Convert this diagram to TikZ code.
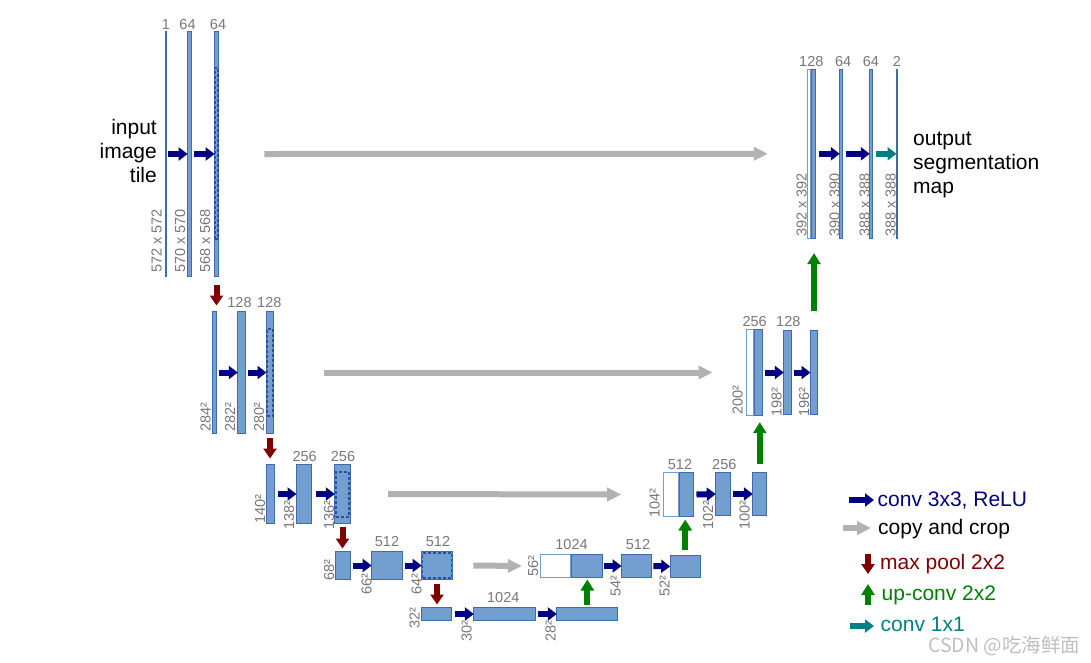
\documentclass[tikz,border=0pt]{standalone}
\usepackage{fontspec}
\setmainfont{Liberation Sans}
\newfontfamily\cjkfont{Noto Sans CJK SC}
\usetikzlibrary{arrows.meta}
\definecolor{blkfill}{RGB}{114,159,207}
\definecolor{blkdraw}{RGB}{62,106,176}
\definecolor{dashc}{RGB}{40,80,160}
\definecolor{lblgray}{RGB}{120,120,120}
\definecolor{cpgray}{RGB}{178,178,178}
\definecolor{convblue}{RGB}{0,0,128}
\definecolor{poolred}{RGB}{128,0,0}
\definecolor{upgreen}{RGB}{0,128,0}
\definecolor{tealc}{RGB}{0,128,128}
\begin{document}
\begin{tikzpicture}[x=1pt,y=-1pt,
  blk/.style={draw=blkdraw, fill=blkfill, line width=1.2pt, inner sep=0pt, outer sep=0pt},
  wblk/.style={draw=blkfill, fill=white, line width=1.2pt, inner sep=0pt, outer sep=0pt},
  dsh/.style={draw=dashc, line width=1.5pt, dash pattern=on 3pt off 2pt, inner sep=0pt, outer sep=0pt},
  conv/.style={draw=convblue, line width=6pt, -{Triangle[length=9pt,width=13pt]}},
  cnv1/.style={draw=tealc, line width=6pt, -{Triangle[length=9pt,width=13pt]}},
  copyc/.style={draw=cpgray, line width=6pt, -{Triangle[length=14pt,width=13pt]}},
  pool/.style={draw=poolred, line width=6pt, -{Triangle[length=10pt,width=13pt]}},
  upc/.style={draw=upgreen, line width=6pt, -{Triangle[length=11pt,width=13pt]}},
  chlbl/.style={text=lblgray, font=\fontsize{14.5}{16}\selectfont, inner sep=0pt, anchor=base},
  szlbl/.style={text=lblgray, font=\fontsize{14.5}{16}\selectfont, inner sep=0pt, rotate=90, anchor=base west},
  bigtxt/.style={font=\fontsize{21}{24}\selectfont, inner sep=0pt},
  legtxt/.style={font=\fontsize{21}{24}\selectfont, inner sep=0pt, anchor=base west}
]
\useasboundingbox (0,0) rectangle (1091,662);
\fill[white] (0,0) rectangle (1091,662);

% ---------- contracting path ----------
% level 1
\node[blk, minimum width=0.6pt, minimum height=245pt] (d11) at (166,154) {};
\node[blk, minimum width=3.8pt, minimum height=245pt] (d12) at (189.5,154) {};
\node[blk, minimum width=3.8pt, minimum height=245pt] (d13) at (216.5,154) {};
\node[dsh, minimum width=3pt, minimum height=171pt] (c13) at (216.5,153.5) {};
% level 2
\node[blk, minimum width=3.4pt, minimum height=122pt] (d21) at (214.5,372.5) {};
\node[blk, minimum width=7.4pt, minimum height=122pt] (d22) at (241.5,372.5) {};
\node[blk, minimum width=7pt, minimum height=122pt] (d23) at (270,372.5) {};
\node[dsh, minimum width=6pt, minimum height=87pt] (c23) at (270,372.5) {};
% level 3
\node[blk, minimum width=7.4pt, minimum height=59pt] (d31) at (270.5,494) {};
\node[blk, minimum width=15pt, minimum height=59pt] (d32) at (304,494) {};
\node[blk, minimum width=15.4pt, minimum height=59pt] (d33) at (342.5,494) {};
\node[dsh, minimum width=13pt, minimum height=45pt] (c33) at (342.5,494.5) {};
% level 4
\node[blk, minimum width=14.4pt, minimum height=28pt] (d41) at (343,565.5) {};
\node[blk, minimum width=30.7pt, minimum height=28pt] (d42) at (387,565.5) {};
\node[blk, minimum width=30.7pt, minimum height=28pt] (d43) at (437,565.5) {};
\node[dsh, minimum width=29pt, minimum height=25pt] (c43) at (437,565.5) {};
% level 5
\node[blk, minimum width=30pt, minimum height=13pt] (d51) at (436.5,614) {};
\node[blk, minimum width=61.7pt, minimum height=13pt] (d52) at (504.7,614) {};
\node[blk, minimum width=61pt, minimum height=13pt] (d53) at (587.3,614) {};

% ---------- expansive path ----------
% level 4
\node[wblk, minimum width=29.7pt, minimum height=23pt] (u4w) at (555.7,566) {};
\node[blk, minimum width=30.7pt, minimum height=23pt] (u4b) at (586.8,566) {};
\node[blk, minimum width=30.3pt, minimum height=23pt] (u42) at (636.7,566) {};
\node[blk, minimum width=30pt, minimum height=22pt] (u43) at (685.2,566.5) {};
% level 3
\node[wblk, minimum width=15pt, minimum height=44pt] (u3w) at (670.7,494.5) {};
\node[blk, minimum width=14.3pt, minimum height=44pt] (u3b) at (686.3,494.5) {};
\node[blk, minimum width=14.4pt, minimum height=43pt] (u32) at (723,494) {};
\node[blk, minimum width=14pt, minimum height=43pt] (u33) at (759.8,494) {};
% level 2
\node[wblk, minimum width=7pt, minimum height=85.4pt] (u2w) at (750,372.5) {};
\node[blk, minimum width=7.7pt, minimum height=85.4pt] (u2b) at (758.3,372.5) {};
\node[blk, minimum width=7.4pt, minimum height=84pt] (u22) at (787.5,372.5) {};
\node[blk, minimum width=7pt, minimum height=84pt] (u23) at (814,372.5) {};
% level 1
\node[wblk, minimum width=3pt, minimum height=168.7pt] (u1w) at (809.3,153.8) {};
\node[blk, minimum width=3.7pt, minimum height=168.7pt] (u1b) at (813.7,153.8) {};
\node[blk, minimum width=3pt, minimum height=168.7pt] (u12) at (841.3,153.8) {};
\node[blk, minimum width=3pt, minimum height=168.7pt] (u13) at (871.3,153.8) {};
\node[blk, minimum width=0.4pt, minimum height=168.7pt] (u14) at (896.7,153.8) {};

% ---------- conv arrows ----------
\draw[conv] ([xshift=2pt]d11.east) -- (d12.west);
\draw[conv] ([xshift=3pt]d12.east) -- (d13.west);
\draw[conv] ([xshift=3pt]d21.east) -- (d22.west);
\draw[conv] ([xshift=2.5pt]d22.east) -- (d23.west);
\draw[conv] ([xshift=4pt]d31.east) -- (d32.west);
\draw[conv] ([xshift=4pt]d32.east) -- (d33.west);
\draw[conv] ([xshift=2.5pt]d41.east) -- (d42.west);
\draw[conv] ([xshift=2.5pt]d42.east) -- (d43.west);
\draw[conv] ([xshift=3pt]d51.east) -- (d52.west);
\draw[conv] ([xshift=2pt]d52.east) -- (d53.west);
\draw[conv] ([xshift=1.5pt]u4b.east) -- (u42.west);
\draw[conv] ([xshift=1.5pt]u42.east) -- (u43.west);
\draw[conv] ([xshift=3pt]u3b.east) -- (u32.west);
\draw[conv] ([xshift=3pt]u32.east) -- (u33.west);
\draw[conv] ([xshift=3pt]u2b.east) -- (u22.west);
\draw[conv] ([xshift=2.5pt]u22.east) -- (u23.west);
\draw[conv] ([xshift=3pt]u1b.east) -- (u12.west);
\draw[conv] ([xshift=3.5pt]u12.east) -- (u13.west);
\draw[cnv1] ([xshift=3.5pt]u13.east) -- (u14.west);

% ---------- copy and crop ----------
\draw[copyc] ([xshift=46pt]d13.east) -- ([xshift=-40pt]u1w.west);
\draw[copyc] ([xshift=50pt]d23.east) -- ([xshift=-34pt]u2w.west);
\draw[copyc] ([xshift=38pt]d33.east) -- ([xshift=-42pt]u3w.west);
\draw[copyc] ([xshift=21pt]d43.east) -- ([xshift=-19pt]u4w.west);

% ---------- max pool ----------
\draw[pool] ([yshift=-8pt]d13.south) -- ([yshift=6pt]d13.south |- d21.north);
\draw[pool] ([yshift=-4pt]d23.south) -- ([yshift=6pt]d23.south |- d31.north);
\draw[pool] ([yshift=-3pt]d33.south) -- ([yshift=3pt]d33.south |- d41.north);
\draw[pool] ([yshift=-4pt]d43.south) -- ([yshift=3pt]d43.south |- d51.north);

% ---------- up-conv ----------
\draw[upc] ([yshift=3pt]d53.north) -- ([yshift=-2pt]d53.north |- u4b.south);
\draw[upc] ([yshift=6pt]u43.north) -- ([yshift=-3pt]u43.north |- u3b.south);
\draw[upc] ([yshift=9pt]u33.north) -- ([yshift=-7pt]u33.north |- u2b.south);
\draw[upc] ([yshift=20pt]u23.north) -- ([yshift=-15pt]u23.north |- u1b.south);

% ---------- channel labels ----------
\node[chlbl] (n11) at (166,29) {1};
\node[chlbl] (n12) at (187.5,29) {64};
\node[chlbl] (n13) at (218,29) {64};
\node[chlbl] (n22) at (239.5,307) {128};
\node[chlbl] (n23) at (269.3,307) {128};
\node[chlbl] (n32) at (304.7,461.5) {256};
\node[chlbl] (n33) at (343,461.5) {256};
\node[chlbl] (n42) at (387,546) {512};
\node[chlbl] (n43) at (438,546) {512};
\node[chlbl] (n52) at (503.3,602.5) {1024};
\node[chlbl] (m41) at (571.5,549) {1024};
\node[chlbl] (m42) at (638,549) {512};
\node[chlbl] (m31) at (680,469) {512};
\node[chlbl] (m32) at (724.3,469) {256};
\node[chlbl] (m21) at (754.7,326) {256};
\node[chlbl] (m22) at (788.3,326) {128};
\node[chlbl] (m11) at (811.3,66) {128};
\node[chlbl] (m12) at (843.2,66) {64};
\node[chlbl] (m13) at (870.8,66) {64};
\node[chlbl] (m14) at (897,66) {2};

% ---------- size labels ----------
\node[szlbl] (s11) at (161.5,273) {572 x 572};
\node[szlbl] (s12) at (185,273) {570 x 570};
\node[szlbl] (s13) at (210,273) {568 x 568};
\node[szlbl] (s21) at (210.5,432) {284²};
\node[szlbl] (s22) at (235,432) {282²};
\node[szlbl] (s23) at (264,432) {280²};
\node[szlbl] (s31) at (265,524) {140²};
\node[szlbl] (s32) at (294,530) {138²};
\node[szlbl] (s33) at (334,530) {136²};
\node[szlbl] (s41) at (334,581) {68²};
\node[szlbl] (s42) at (371.5,595) {66²};
\node[szlbl] (s43) at (421.5,595) {64²};
\node[szlbl] (s51) at (419.5,629) {32²};
\node[szlbl] (s52) at (471.5,642) {30²};
\node[szlbl] (s53) at (555.5,642) {28²};
\node[szlbl] (t41) at (538,577) {56²};
\node[szlbl] (t42) at (620.5,596.5) {54²};
\node[szlbl] (t43) at (669.5,596.5) {52²};
\node[szlbl] (t31) at (659.5,518) {104²};
\node[szlbl] (t32) at (713,530) {102²};
\node[szlbl] (t33) at (749.5,530) {100²};
\node[szlbl] (t21) at (742.5,415) {200²};
\node[szlbl] (t22) at (781.5,416.5) {198²};
\node[szlbl] (t23) at (809,416.5) {196²};
\node[szlbl] (t11) at (806.5,237) {392 x 392};
\node[szlbl] (t12) at (839.5,237) {390 x 390};
\node[szlbl] (t13) at (869.5,237) {388 x 388};
\node[szlbl] (t14) at (895.5,237) {388 x 388};

% ---------- texts ----------
\node[bigtxt, align=right, anchor=north east] (inp) at (157,119) {input\\image\\tile};
\node[bigtxt, align=left, anchor=north west] (outp) at (913,132) {output\\segmentation\\map};

% ---------- legend ----------
\coordinate (la1) at (849,500);  \coordinate (lb1) at (874,500);
\coordinate (la2) at (843,528);  \coordinate (lb2) at (871,528);
\coordinate (la3) at (868,554);  \coordinate (lb3) at (868,574);
\coordinate (la4) at (868,605);  \coordinate (lb4) at (868,584);
\coordinate (la5) at (850,626);  \coordinate (lb5) at (874,626);
\draw[conv] (la1) -- (lb1);
\draw[copyc] (la2) -- (lb2);
\draw[pool] (la3) -- (lb3);
\draw[upc] (la4) -- (lb4);
\draw[cnv1] (la5) -- (lb5);
\node[legtxt, text=convblue] (l1) at (877.5,506) {conv 3x3, ReLU};
\node[legtxt] (l2) at (878,534) {copy and crop};
\node[legtxt, text=poolred] (l3) at (880,569) {max pool 2x2};
\node[legtxt, text=upgreen] (l4) at (881.5,600) {up-conv 2x2};
\node[legtxt, text=tealc] (l5) at (880.5,631.5) {conv 1x1};
\node[anchor=base west, inner sep=0pt, text=black!25, font=\cjkfont\fontsize{19.5}{22}\selectfont] (wm) at (928,652) {CSDN @吃海鲜面};
\end{tikzpicture}
\end{document}
